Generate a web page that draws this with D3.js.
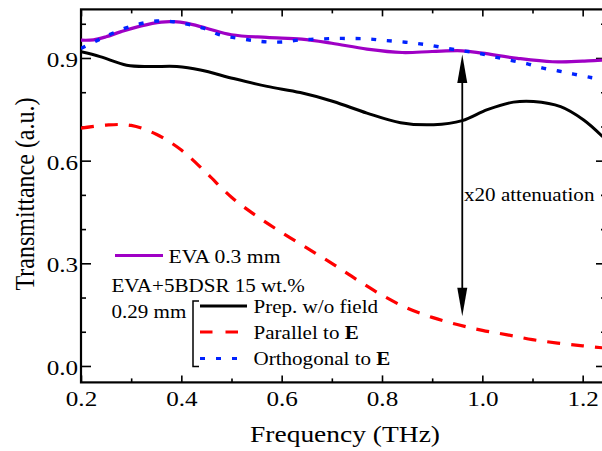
<!DOCTYPE html>
<html>
<head>
<meta charset="utf-8">
<script src="https://cdn.jsdelivr.net/npm/d3@7"></script>
<style>
  body { margin: 0; background: #fff; }
  svg { display: block; }
  text { font-family: "Liberation Serif", "Times New Roman", serif; fill: #000; }
</style>
</head>
<body>
<div id="chart"></div>
<script>
// EVA 0.3 mm
var evaX = [0.20, 0.225, 0.25, 0.28, 0.32, 0.36, 0.385, 0.41, 0.45, 0.50, 0.57, 0.64, 0.70, 0.77, 0.84, 0.90, 0.96, 1.00, 1.07, 1.14, 1.20, 1.24];
var evaY = [0.952, 0.953, 0.962, 0.977, 0.994, 1.005, 1.006, 1.002, 0.987, 0.968, 0.960, 0.955, 0.943, 0.926, 0.916, 0.919, 0.921, 0.914, 0.899, 0.889, 0.891, 0.894];

// EVA+5BDSR, prepared without field
var prepX = [0.20, 0.238, 0.291, 0.338, 0.391, 0.438, 0.504, 0.571, 0.637, 0.703, 0.770, 0.837, 0.903, 0.960, 1.010, 1.062, 1.102, 1.156, 1.202, 1.24];
var prepY = [0.918, 0.904, 0.879, 0.875, 0.875, 0.865, 0.840, 0.817, 0.799, 0.773, 0.739, 0.711, 0.705, 0.717, 0.749, 0.771, 0.773, 0.758, 0.719, 0.670];

// parallel to E
var parX = [0.20, 0.25, 0.30, 0.35, 0.40, 0.45, 0.50, 0.55, 0.60, 0.65, 0.70, 0.75, 0.80, 0.85, 0.90, 0.95, 1.00, 1.05, 1.10, 1.15, 1.20, 1.24];
var parY = [0.695, 0.704, 0.703, 0.677, 0.631, 0.564, 0.493, 0.438, 0.390, 0.345, 0.300, 0.252, 0.207, 0.169, 0.142, 0.121, 0.104, 0.091, 0.077, 0.067, 0.059, 0.053];

// orthogonal to E
var ortX = [0.20, 0.228, 0.258, 0.288, 0.318, 0.351, 0.384, 0.414, 0.444, 0.478, 0.511, 0.544, 0.571, 0.604, 0.637, 0.670, 0.703, 0.737, 0.770, 0.800, 0.833, 0.867, 0.897, 0.930, 0.960, 0.993, 1.022, 1.056, 1.090, 1.119, 1.152, 1.182, 1.216, 1.24];
var ortY = [0.928, 0.948, 0.969, 0.987, 1.000, 1.008, 1.006, 0.998, 0.987, 0.967, 0.958, 0.951, 0.947, 0.947, 0.953, 0.955, 0.957, 0.957, 0.956, 0.952, 0.948, 0.943, 0.937, 0.928, 0.921, 0.914, 0.904, 0.893, 0.883, 0.871, 0.862, 0.853, 0.843, 0.838];

var xMajor = [0.2, 0.4, 0.6, 0.8, 1.0, 1.2];
var xMinor = [0.3, 0.5, 0.7, 0.9, 1.1];
var yMajor = [0.0, 0.3, 0.6, 0.9];
var yMinor = [0.1, 0.2, 0.4, 0.5, 0.7, 0.8, 1.0];

// annotation arrow: frequency, top and bottom transmittance
var arrowX = 0.96;
var arrowTop = 0.91;
var arrowBottom = 0.145;

var W = 602, H = 451;
var SX = 1.17; // glyphs in the figure are a bit wider than tall

var svg = d3.select("#chart").append("svg").attr("width", W).attr("height", H);
svg.append("rect").attr("width", W).attr("height", H).attr("fill", "#fff");

var x = d3.scaleLinear().domain([0.2, 1.2465]).range([81, 606]);
var y = d3.scaleLinear().domain([-0.048, 1.042]).range([382.4, 9.4]);

svg.append("clipPath").attr("id", "plotclip")
    .append("rect")
    .attr("x", x.range()[0]).attr("y", y.range()[1])
    .attr("width", x.range()[1] - x.range()[0])
    .attr("height", y.range()[0] - y.range()[1]);

function stretchText(parent, px, py, str, size, anchor) {
    var g = parent.append("g").attr("transform", "translate(" + px + "," + py + ") scale(" + SX + ",1)");
    return g.append("text")
        .attr("font-size", size)
        .attr("text-anchor", anchor || "start")
        .text(str);
}

//axes, all ticks pointing inward
function styleAxis(g, width) {
    g.select(".domain").remove();
    g.selectAll(".tick line").attr("stroke", "#000").attr("stroke-width", width);
}

var xb = svg.append("g").attr("transform", "translate(0," + y.range()[0] + ")")
    .call(d3.axisBottom(x).tickValues(xMajor).tickSize(-7).tickPadding(8.3).tickFormat(d3.format(".1f")));
styleAxis(xb, 1.6);
xb.selectAll("text").attr("font-size", 21.5).attr("font-family", null).attr("transform", "scale(" + SX + ",1)");
var xbm = svg.append("g").attr("transform", "translate(0," + y.range()[0] + ")")
    .call(d3.axisBottom(x).tickValues(xMinor).tickSize(-4).tickFormat(""));
styleAxis(xbm, 1.6);

var xt = svg.append("g").attr("transform", "translate(0," + y.range()[1] + ")")
    .call(d3.axisTop(x).tickValues(xMajor).tickSize(-7).tickFormat(""));
styleAxis(xt, 1.6);
var xtm = svg.append("g").attr("transform", "translate(0," + y.range()[1] + ")")
    .call(d3.axisTop(x).tickValues(xMinor).tickSize(-4).tickFormat(""));
styleAxis(xtm, 1.6);

var yl = svg.append("g").attr("transform", "translate(" + x.range()[0] + ",0)")
    .call(d3.axisLeft(y).tickValues(yMajor).tickSize(-10).tickPadding(2.5).tickFormat(d3.format(".1f")));
styleAxis(yl, 1.6);
yl.selectAll("text").attr("font-size", 21.5).attr("font-family", null).attr("dy", "0.4em").attr("transform", "scale(" + SX + ",1)");
var ylm = svg.append("g").attr("transform", "translate(" + x.range()[0] + ",0)")
    .call(d3.axisLeft(y).tickValues(yMinor).tickSize(-5).tickFormat(""));
styleAxis(ylm, 1.6);

var yr = svg.append("g").attr("transform", "translate(" + x.range()[1] + ",0)")
    .call(d3.axisRight(y).tickValues(yMajor).tickSize(-10).tickFormat(""));
styleAxis(yr, 1.6);
var yrm = svg.append("g").attr("transform", "translate(" + x.range()[1] + ",0)")
    .call(d3.axisRight(y).tickValues(yMinor).tickSize(-5).tickFormat(""));
styleAxis(yrm, 1.6);

svg.append("rect")
    .attr("x", x.range()[0]).attr("y", y.range()[1])
    .attr("width", x.range()[1] - x.range()[0])
    .attr("height", y.range()[0] - y.range()[1])
    .attr("fill", "none").attr("stroke", "#000").attr("stroke-width", 2.2);

// axis titles
stretchText(svg, 345, 442, "Frequency (THz)", 23.5, "middle");
svg.append("g").attr("transform", "translate(34,194) scale(1.13,1) rotate(-90)")
    .append("text").attr("font-size", 24).attr("text-anchor", "middle").text("Transmittance (a.u.)");

// curves
var plot = svg.append("g").attr("clip-path", "url(#plotclip)");
var line = d3.line().x(function (d) { return x(d[0]); }).y(function (d) { return y(d[1]); }).curve(d3.curveCatmullRom.alpha(0.5));

function zipXY(xs, ys) { return xs.map(function (v, i) { return [v, ys[i]]; }); }

var series = [
    { data: zipXY(prepX, prepY), color: "#000000", dash: null, width: 3 },
    { data: zipXY(parX, parY), color: "#ff0000", dash: "13,11", width: 3.2 },
    { data: zipXY(evaX, evaY), color: "#9f00c5", dash: null, width: 3.2 },
    { data: zipXY(ortX, ortY), color: "#0022ff", dash: "5,10.7", width: 3.4 }
];
series.forEach(function (s) {
    plot.append("path")
        .attr("d", line(s.data))
        .attr("fill", "none")
        .attr("stroke", s.color)
        .attr("stroke-width", s.width)
        .attr("stroke-dasharray", s.dash);
});

// double-headed arrow
var ax = x(arrowX), ayT = y(arrowTop), ayB = y(arrowBottom);
svg.append("line").attr("x1", ax).attr("x2", ax).attr("y1", ayT + 10).attr("y2", ayB - 10)
    .attr("stroke", "#000").attr("stroke-width", 1.8);
svg.append("path").attr("d", "M" + ax + "," + ayT + " L" + (ax - 5) + "," + (ayT + 28.5) + " L" + (ax + 5) + "," + (ayT + 28.5) + " Z").attr("fill", "#000");
svg.append("path").attr("d", "M" + ax + "," + ayB + " L" + (ax - 5) + "," + (ayB - 28.5) + " L" + (ax + 5) + "," + (ayB - 28.5) + " Z").attr("fill", "#000");
stretchText(svg, ax + 1.8, 200.5, "x20 attenuation", 18);

// legend
var leg = svg.append("g");
leg.append("line").attr("x1", 115).attr("x2", 163).attr("y1", 255.5).attr("y2", 255.5)
    .attr("stroke", "#9f00c5").attr("stroke-width", 3.2);
stretchText(leg, 168.5, 262.5, "EVA 0.3 mm", 18.5);
stretchText(leg, 111.5, 291.5, "EVA+5BDSR 15 wt.%", 18);
stretchText(leg, 111.5, 318, "0.29 mm", 18);
leg.append("path").attr("d", "M199,301 H193 V366.5 H199").attr("fill", "none").attr("stroke", "#000").attr("stroke-width", 1.5);

var legRows = [
    { y: 306, color: "#000000", dash: null, label: "Prep. w/o field", bold: null },
    { y: 332, color: "#ff0000", dash: "12.5,13", label: "Parallel to ", bold: "E" },
    { y: 358.5, color: "#0022ff", dash: "5,11", label: "Orthogonal to ", bold: "E" }
];
legRows.forEach(function (r) {
    leg.append("line").attr("x1", 200).attr("x2", 247).attr("y1", r.y).attr("y2", r.y)
        .attr("stroke", r.color).attr("stroke-width", 3.2).attr("stroke-dasharray", r.dash);
    var t = stretchText(leg, 253.5, r.y + 6.5, r.label, 18);
    if (r.bold) t.append("tspan").attr("font-weight", "bold").text(r.bold);
});
</script>
</body>
</html>
